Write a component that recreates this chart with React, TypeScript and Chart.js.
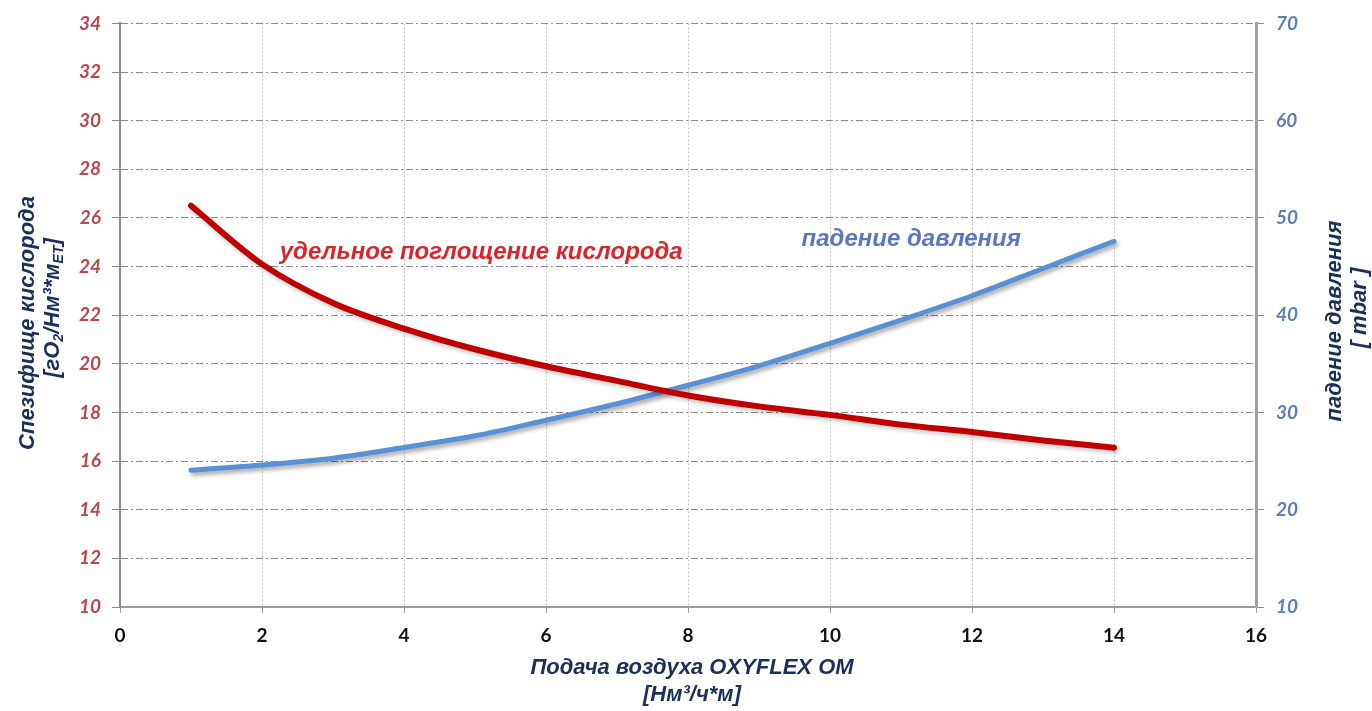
import React, { useEffect, useRef } from 'react';
import { Chart, registerables } from 'chart.js';

Chart.register(...registerables);

// ---- Data ----
const airFlow = [1, 2, 3, 4, 5, 6, 7, 8, 9, 10, 11, 12, 13, 14];
const oxygenUptake = [26.5, 24.1, 22.5, 21.45, 20.6, 19.9, 19.3, 18.7, 18.25, 17.9, 17.5, 17.2, 16.85, 16.55];
const pressureDrop = [24.05, 24.6, 25.3, 26.4, 27.6, 29.2, 30.9, 32.8, 34.8, 37.1, 39.5, 42.0, 44.8, 47.6];

const xRange = [0, 16];
const leftRange = [10, 34];
const rightRange = [10, 70];

const oxygenLabel = 'удельное поглощение кислорода';
const pressureLabel = 'падение давления';
const xTitle = ['Подача воздуха OXYFLEX OM', '[Нм³/ч*м]'];
const leftTitle = 'Спезифище кислорода';
const rightTitle = ['падение давления', '[ mbar ]'];

const NAVY = '#1c2f5a';
const TITLE_FONT = 'italic bold 22px "Liberation Sans", Arial, sans-serif';

type Part = { t: string; sub?: boolean };

function drawParts(ctx: CanvasRenderingContext2D, parts: Part[], cx: number, cy: number, size: number) {
  const main = `italic bold ${size}px "Liberation Sans", Arial, sans-serif`;
  const small = `italic bold ${Math.round(size * 0.62)}px "Liberation Sans", Arial, sans-serif`;
  let total = 0;
  const widths = parts.map((p) => {
    ctx.font = p.sub ? small : main;
    const w = ctx.measureText(p.t).width;
    total += w;
    return w;
  });
  let x = cx - total / 2;
  ctx.textAlign = 'left';
  ctx.textBaseline = 'middle';
  parts.forEach((p, i) => {
    ctx.font = p.sub ? small : main;
    ctx.fillText(p.t, x, p.sub ? cy + size * 0.3 : cy);
    x += widths[i];
  });
}

const decorPlugin = {
  id: 'decor',
  beforeDatasetDraw(chart: any, args: any) {
    const ctx = chart.ctx;
    ctx.save();
    ctx.shadowColor = args.index === 1 ? 'rgba(0,0,0,0.35)' : 'rgba(0,0,0,0.2)';
    ctx.shadowBlur = 4;
    ctx.shadowOffsetX = 2;
    ctx.shadowOffsetY = 3;
  },
  afterDatasetDraw(chart: any) {
    chart.ctx.restore();
  },
  afterDraw(chart: any) {
    const ctx = chart.ctx as CanvasRenderingContext2D;
    const xs = chart.scales.x;
    const yl = chart.scales.y;
    const yr = chart.scales.y1;
    ctx.save();
    // in-plot labels
    ctx.font = 'italic bold 24px "Liberation Sans", Arial, sans-serif';
    ctx.textBaseline = 'middle';
    ctx.textAlign = 'left';
    ctx.fillStyle = '#d9262c';
    ctx.fillText(oxygenLabel, xs.getPixelForValue(2.25), yl.getPixelForValue(24.6));
    ctx.fillStyle = '#5a77c0';
    ctx.fillText(pressureLabel, xs.getPixelForValue(9.6), yr.getPixelForValue(47.8));

    // x title
    ctx.fillStyle = NAVY;
    ctx.textAlign = 'center';
    ctx.font = TITLE_FONT;
    ctx.fillText(xTitle[0], 692, 668);
    ctx.fillText(xTitle[1], 692, 695);

    // left title
    ctx.save();
    ctx.translate(28, 323);
    ctx.rotate(-Math.PI / 2);
    ctx.font = TITLE_FONT;
    ctx.textAlign = 'center';
    ctx.fillText(leftTitle, 0, 0);
    ctx.restore();
    ctx.save();
    ctx.translate(53, 308);
    ctx.rotate(-Math.PI / 2);
    drawParts(ctx, [
      { t: '[гО' }, { t: '2', sub: true }, { t: '/Нм³*м' }, { t: 'ET', sub: true }, { t: ']' },
    ], 0, 0, 22);
    ctx.restore();

    // right title
    ctx.save();
    ctx.translate(1335, 321);
    ctx.rotate(-Math.PI / 2);
    ctx.font = TITLE_FONT;
    ctx.textAlign = 'center';
    ctx.fillText(rightTitle[0], 0, 0);
    ctx.fillText(rightTitle[1], 13, 25);
    ctx.restore();
    ctx.restore();
  },
};

export default function App() {
  const ref = useRef<HTMLCanvasElement>(null);

  useEffect(() => {
    if (!ref.current) return;
    const tickFont = { family: 'Lato, "Liberation Sans", sans-serif', size: 19, weight: 'bold' as const, style: 'italic' as const };
    const chart = new Chart(ref.current, {
      type: 'line',
      data: {
        datasets: [
          {
            label: oxygenLabel,
            data: airFlow.map((x, i) => ({ x, y: oxygenUptake[i] })),
            borderColor: '#c00000',
            borderWidth: 6,
            pointRadius: 0,
            tension: 0.4,
            cubicInterpolationMode: 'monotone',
            borderCapStyle: 'round',
            yAxisID: 'y',
          },
          {
            label: pressureLabel,
            data: airFlow.map((x, i) => ({ x, y: pressureDrop[i] })),
            borderColor: '#5891d6',
            borderWidth: 5,
            pointRadius: 0,
            tension: 0.4,
            cubicInterpolationMode: 'monotone',
            borderCapStyle: 'round',
            yAxisID: 'y1',
          },
        ],
      },
      options: {
        animation: false,
        responsive: false,
        maintainAspectRatio: false,
        layout: { padding: { top: 22, left: 0, right: 0, bottom: 0 } },
        plugins: { legend: { display: false }, tooltip: { enabled: false } },
        scales: {
          x: {
            type: 'linear',
            min: xRange[0],
            max: xRange[1],
            ticks: { stepSize: 2, color: '#111', padding: 11, font: { family: 'Lato, "Liberation Sans", sans-serif', size: 19, weight: 'bold' } },
            grid: { color: '#c4c4c4', tickLength: 6, tickColor: '#999', lineWidth: 1 },
            border: { display: true, color: '#9a9a9a', width: 2, dash: [2, 2] },
            afterFit: (s: any) => { s.height = 104; },
          },
          y: {
            type: 'linear',
            position: 'left',
            min: leftRange[0],
            max: leftRange[1],
            ticks: { stepSize: 2, color: '#b9474b', padding: 11, font: tickFont },
            grid: { color: '#8a8a8a', tickLength: 8, tickColor: '#8a8a8a', lineWidth: 1 },
            border: { display: true, color: '#8c8c8c', width: 2, dash: [7, 3, 2, 3] },
            afterFit: (s: any) => { s.width = 120; },
          },
          y1: {
            type: 'linear',
            position: 'right',
            min: rightRange[0],
            max: rightRange[1],
            ticks: { stepSize: 10, color: '#5b80b8', padding: 12, font: tickFont },
            grid: { drawOnChartArea: false, tickLength: 8, tickColor: '#8a8a8a' },
            border: { display: true, color: '#a0a0a0', width: 3 },
            afterFit: (s: any) => { s.width = 116; },
          },
        },
      },
      plugins: [decorPlugin],
    } as any);
    return () => chart.destroy();
  }, []);

  return (
    <div style={{ position: 'fixed', left: 0, top: 0, width: 1372, height: 711, background: '#fff' }}>
      <canvas ref={ref} width={1372} height={711} style={{ display: 'block', width: 1372, height: 711 }} />
    </div>
  );
}
